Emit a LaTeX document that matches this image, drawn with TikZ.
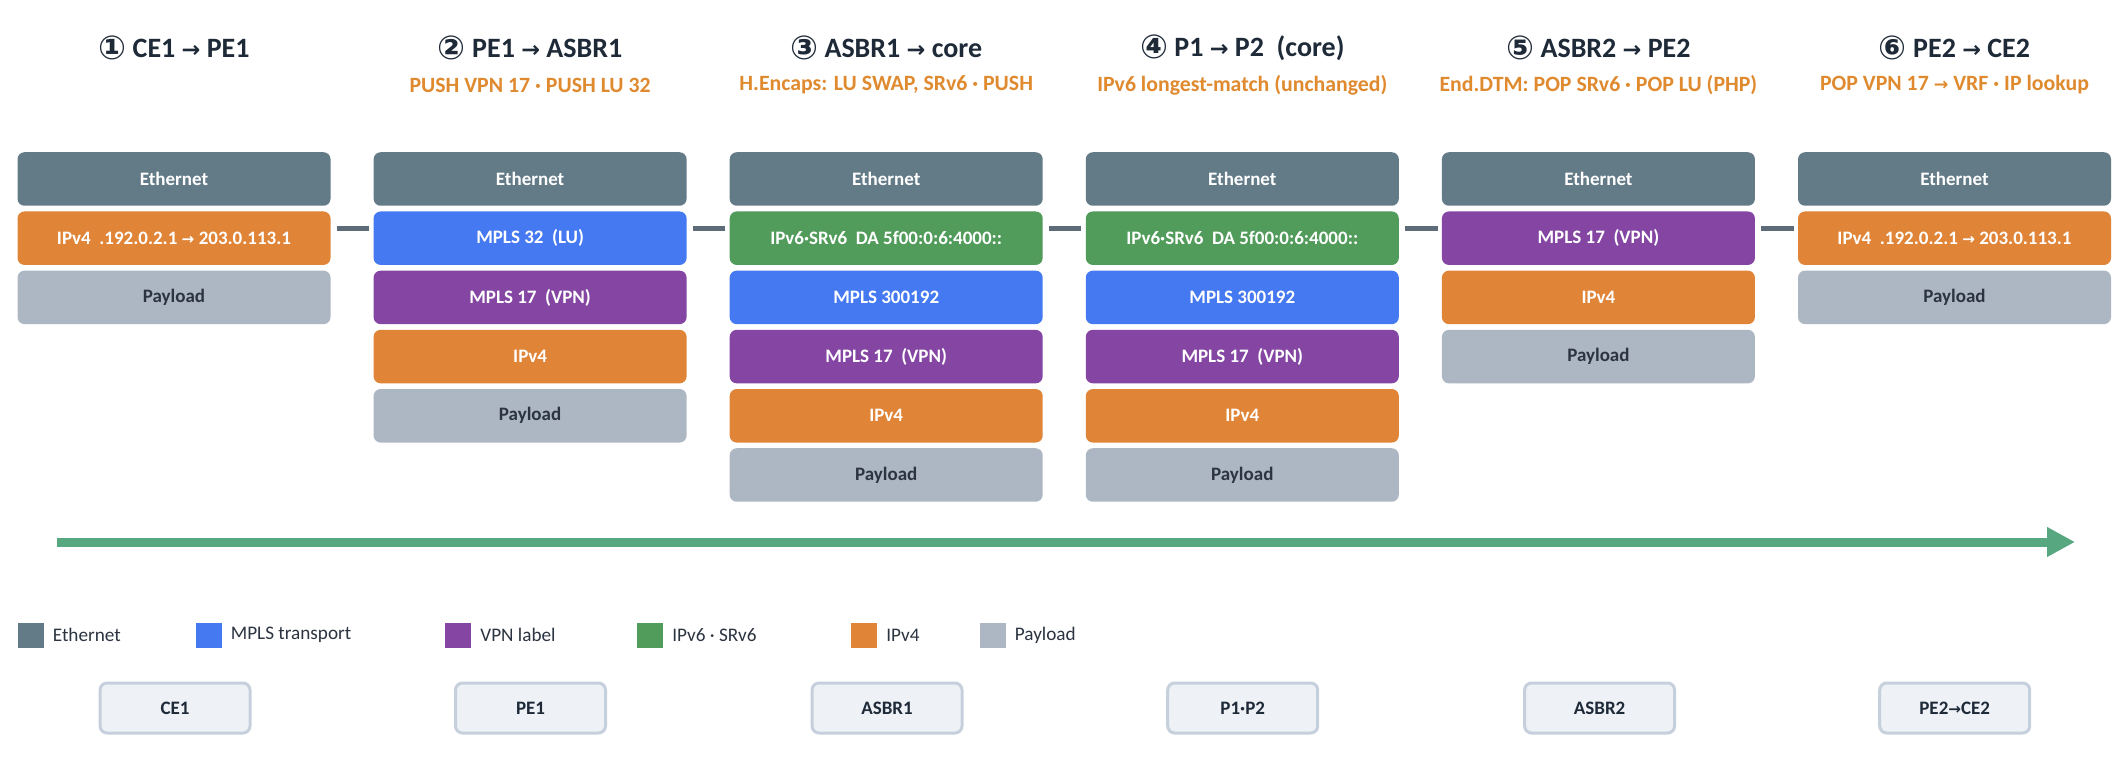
\documentclass[tikz,border=0pt]{standalone}
\usepackage{fontspec}
\setmainfont{Carlito}
\newfontfamily\sym{DejaVu Sans}
\usetikzlibrary{arrows.meta,decorations.pathmorphing,calc}
\definecolor{eth}{HTML}{637A87}
\definecolor{mpls}{HTML}{4479F1}
\definecolor{vpn}{HTML}{8446A2}
\definecolor{srv}{HTML}{519B5B}
\definecolor{ipv}{HTML}{E08437}
\definecolor{pay}{HTML}{ADB7C3}
\definecolor{ttl}{HTML}{1E2A38}
\definecolor{subc}{HTML}{E08A2F}
\definecolor{lnk}{HTML}{5E6C79}
\definecolor{flowc}{HTML}{57A781}
\definecolor{nodefill}{HTML}{EEF1F6}
\definecolor{nodeline}{HTML}{C6D0DC}
\definecolor{dark}{HTML}{2B3440}
\definecolor{squigc}{HTML}{E0303A}
\newcommand\arr{{\sym\scalebox{0.8}{→}}}
\newcommand\cnum[1]{{\sym\raisebox{-0.08em}{\scalebox{1.18}{#1}}}}
\newlength\wA
\newlength\wB
\tikzset{
  layer/.style={rounded corners=3.5pt, minimum width=156.5pt, minimum height=26.75pt,
    inner sep=0pt, font=\bfseries\fontsize{9.5}{11}\selectfont, text=white},
  ethl/.style={layer, fill=eth},
  mplsl/.style={layer, fill=mpls},
  vpnl/.style={layer, fill=vpn},
  srl/.style={layer, fill=srv},
  ipl/.style={layer, fill=ipv},
  payl/.style={layer, fill=pay, text=dark},
  ttlnode/.style={font=\bfseries\fontsize{14}{16}\selectfont, text=ttl, inner sep=0pt},
  subnode/.style={font=\bfseries\fontsize{10.9}{13}\selectfont, text=subc, inner sep=0pt},
  linkline/.style={draw=lnk, line width=2.5pt},
  flowarrow/.style={draw=flowc, line width=4.5pt, -{Triangle[length=14pt,width=14pt]}},
  legsq/.style={minimum width=13pt, minimum height=12.5pt, inner sep=0pt},
  legtxt/.style={anchor=west, inner sep=0pt, font=\fontsize{9.6}{11}\selectfont, text=dark},
  devbox/.style={rounded corners=3.5pt, minimum width=75pt, minimum height=25pt, inner sep=0pt,
    fill=nodefill, draw=nodeline, line width=1.5pt, font=\bfseries\fontsize{9.5}{11}\selectfont, text=ttl},
  squig/.style={draw=squigc, line width=0.8pt, decorate,
    decoration={snake, amplitude=0.7pt, segment length=2.4pt}}
}
\begin{document}
\begin{tikzpicture}[x=0.5pt,y=-0.5pt]
\useasboundingbox (0,0) rectangle (2126,764);
\fill[white] (0,0) rectangle (2126,764);

% titles
\node[ttlnode] (t1) at (174,48) {\cnum{①} CE1 \arr{} PE1};
\node[ttlnode] (t2) at (530.1,48) {\cnum{②} PE1 \arr{} ASBR1};
\node[ttlnode] (t3) at (886.2,48) {\cnum{③} ASBR1 \arr{} core};
\node[ttlnode] (t4) at (1242.3,48) {\cnum{④} P1 \arr{} P2\ \ (core)};
\node[ttlnode] (t5) at (1598.4,48) {\cnum{⑤} ASBR2 \arr{} PE2};
\node[ttlnode] (t6) at (1954.5,48) {\cnum{⑥} PE2 \arr{} CE2};

\node[subnode] (s2) at (530.1,85) {PUSH VPN 17 · PUSH LU 32};
\node[subnode] (s3) at (886.2,85) {H.Encaps: LU SWAP, SRv6 · PUSH};
\node[subnode] (s4) at (1242.3,85) {IPv6 longest-match (unchanged)};
\node[subnode] (s5) at (1598.4,85) {End.DTM: POP SRv6 · POP LU (PHP)};
\node[subnode] (s6) at (1954.5,85) {POP VPN 17 \arr{} VRF · IP lookup};

\settowidth\wA{\bfseries\fontsize{10.9}{13}\selectfont H.Encaps}
\settowidth\wB{\bfseries\fontsize{10.9}{13}\selectfont End.DTM:}
\draw[squig] ([yshift=-2.4pt]s3.base west) -- ++(\wA,0);
\draw[squig] ([yshift=-2.4pt]s5.base west) -- ++(\wB,0);

% column 1
\node[ethl] (c1r1) at (174,179) {Ethernet};
\node[ipl]  (c1r2) at (174,238.2) {IPv4\ \ .192.0.2.1 \arr{} 203.0.113.1};
\node[payl] (c1r3) at (174,297.4) {Payload};
% column 2
\node[ethl]  (c2r1) at (530.1,179) {Ethernet};
\node[mplsl] (c2r2) at (530.1,238.2) {MPLS 32\ \ (LU)};
\node[vpnl]  (c2r3) at (530.1,297.4) {MPLS 17\ \ (VPN)};
\node[ipl]   (c2r4) at (530.1,356.6) {IPv4};
\node[payl]  (c2r5) at (530.1,415.8) {Payload};
% column 3
\node[ethl]  (c3r1) at (886.2,179) {Ethernet};
\node[srl]   (c3r2) at (886.2,238.2) {IPv6·SRv6\ \ DA 5f00:0:6:4000::};
\node[mplsl] (c3r3) at (886.2,297.4) {MPLS 300192};
\node[vpnl]  (c3r4) at (886.2,356.6) {MPLS 17\ \ (VPN)};
\node[ipl]   (c3r5) at (886.2,415.8) {IPv4};
\node[payl]  (c3r6) at (886.2,475) {Payload};
% column 4
\node[ethl]  (c4r1) at (1242.3,179) {Ethernet};
\node[srl]   (c4r2) at (1242.3,238.2) {IPv6·SRv6\ \ DA 5f00:0:6:4000::};
\node[mplsl] (c4r3) at (1242.3,297.4) {MPLS 300192};
\node[vpnl]  (c4r4) at (1242.3,356.6) {MPLS 17\ \ (VPN)};
\node[ipl]   (c4r5) at (1242.3,415.8) {IPv4};
\node[payl]  (c4r6) at (1242.3,475) {Payload};
% column 5
\node[ethl]  (c5r1) at (1598.4,179) {Ethernet};
\node[vpnl]  (c5r2) at (1598.4,238.2) {MPLS 17\ \ (VPN)};
\node[ipl]   (c5r3) at (1598.4,297.4) {IPv4};
\node[payl]  (c5r4) at (1598.4,356.6) {Payload};
% column 6
\node[ethl] (c6r1) at (1954.5,179) {Ethernet};
\node[ipl]  (c6r2) at (1954.5,238.2) {IPv4\ \ .192.0.2.1 \arr{} 203.0.113.1};
\node[payl] (c6r3) at (1954.5,297.4) {Payload};

% links
\draw[linkline] ([xshift=3pt,yshift=4.6pt]c1r2.east) -- ([xshift=-2pt,yshift=4.6pt]c2r2.west);
\draw[linkline] ([xshift=3pt,yshift=4.6pt]c2r2.east) -- ([xshift=-2pt,yshift=4.6pt]c3r2.west);
\draw[linkline] ([xshift=3pt,yshift=4.6pt]c3r2.east) -- ([xshift=-2pt,yshift=4.6pt]c4r2.west);
\draw[linkline] ([xshift=3pt,yshift=4.6pt]c4r2.east) -- ([xshift=-2pt,yshift=4.6pt]c5r2.west);
\draw[linkline] ([xshift=3pt,yshift=4.6pt]c5r2.east) -- ([xshift=-2pt,yshift=4.6pt]c6r2.west);

% flow arrow
\coordinate (flowS) at (57,542);
\coordinate (flowE) at (2075,542);
\draw[flowarrow] (flowS) -- (flowE);

% legend
\node[legsq, fill=eth]  (lg1) at (30.5,635) {};
\node[legtxt] (lt1) at (52.5,635) {Ethernet};
\node[legsq, fill=mpls] (lg2) at (208.5,635) {};
\node[legtxt] (lt2) at (230.5,635) {MPLS transport};
\node[legsq, fill=vpn]  (lg3) at (458,635) {};
\node[legtxt] (lt3) at (480,635) {VPN label};
\node[legsq, fill=srv]  (lg4) at (650,635) {};
\node[legtxt] (lt4) at (672,635) {IPv6 · SRv6};
\node[legsq, fill=ipv]  (lg5) at (864,635) {};
\node[legtxt] (lt5) at (886,635) {IPv4};
\node[legsq, fill=pay]  (lg6) at (992.5,635) {};
\node[legtxt] (lt6) at (1014.5,635) {Payload};

% device boxes
\node[devbox] (b1) at (175,708) {CE1};
\node[devbox] (b2) at (530.5,708) {PE1};
\node[devbox] (b3) at (887,708) {ASBR1};
\node[devbox] (b4) at (1242.7,708) {P1·P2};
\node[devbox] (b5) at (1599.6,708) {ASBR2};
\node[devbox] (b6) at (1954.7,708) {PE2\arr{}CE2};
\end{tikzpicture}
\end{document}
